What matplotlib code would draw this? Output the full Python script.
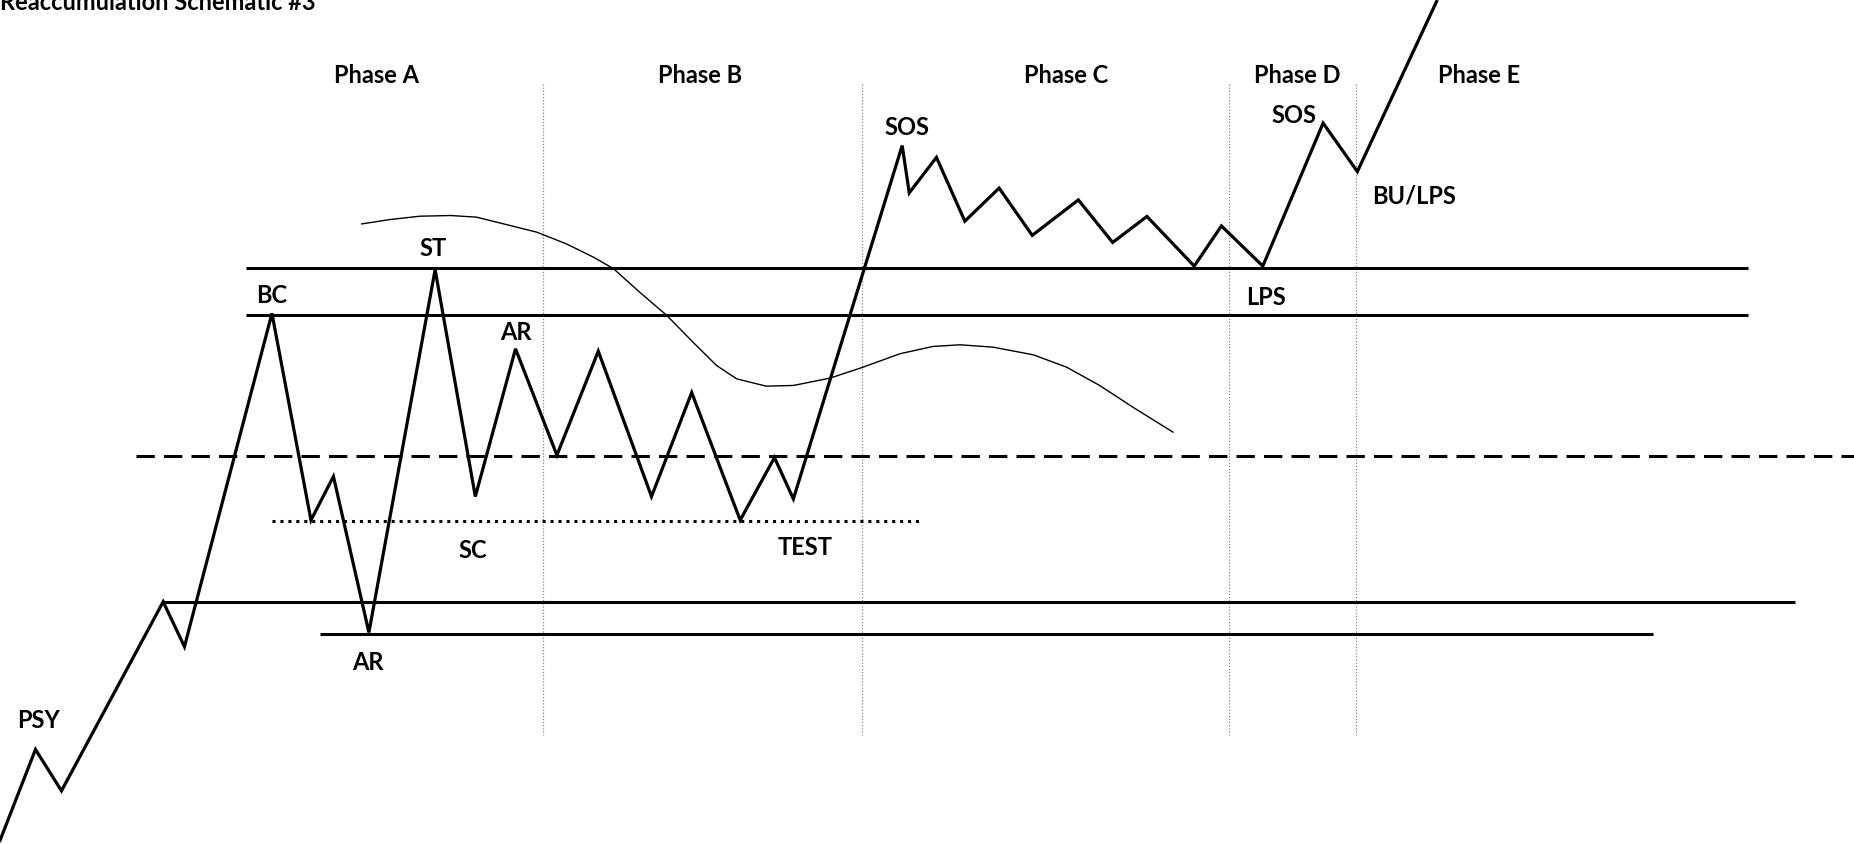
import numpy as np
import matplotlib.pyplot as plt

# price path (x position, price level); price = 715 - screen row
path_x = [0, 30, 52, 138, 156, 230, 263, 282, 312, 368, 402, 436, 471, 506, 551, 585,
          626, 655, 671, 763, 769, 792, 816, 845, 873, 912, 941, 970, 1010, 1033, 1068,
          1119, 1148, 1215]
path_y = [712, 635, 670, 510, 548, 266, 441, 404, 536, 229, 421, 296, 386, 298, 421, 333,
          441, 388, 423, 124, 164, 134, 188, 160, 200, 170, 206, 184, 226, 192, 226,
          105, 146, 2]

# thin curve
curve_x = [306, 330, 355, 381, 403, 426, 454, 479, 502, 519, 541, 564, 586, 606, 623,
           648, 671, 702, 730, 761, 789, 812, 840, 874, 902, 930, 958, 992]
curve_y = [190.3, 186.6, 183.8, 183.2, 184.6, 190.3, 197.3, 207.2, 218.5, 228.3, 248.1,
           267.8, 290.3, 310.1, 321.4, 327.6, 327.0, 320.8, 311.5, 300.2, 294.0, 292.6,
           294.6, 301.1, 311.5, 327.0, 345.3, 366.5]

# horizontal levels: (row, x start, x end, style)
levels = [
    (228, 208, 1478, 'solid'),
    (267, 208, 1478, 'solid'),
    (387, 115, 1568, 'dashed'),
    (442, 230, 780, 'dotted'),
    (510, 138, 1518, 'solid'),
    (537, 271, 1398, 'solid'),
]

phase_div_x = [459, 729, 1039, 1147]

phase_names = ['Phase A', 'Phase B', 'Phase C', 'Phase D', 'Phase E']
phase_x = [318, 592, 902, 1097, 1251]

labels = ['SOS', 'SOS', 'BU/LPS', 'ST', 'BC', 'LPS', 'AR', 'SC', 'TEST', 'AR', 'PSY']
label_x = [767, 1094, 1196, 366, 230, 1071, 436, 400, 681, 311, 33]
label_y = [108, 98, 166, 210, 250, 252, 281, 466, 463, 561, 610]

H = 715
def price(rows):
    return H - np.array(rows, dtype=float)

fig = plt.figure(figsize=(18.54, 8.45), dpi=100)
ax = fig.add_axes([0, 0, 1, 1])
ax.set_xlim(0, 1568)
ax.set_ylim(0, H)
ax.axis('off')

font = dict(family=['Lato', 'DejaVu Sans'], fontweight='bold', fontsize=17, color='black')

for x in phase_div_x:
    ax.plot([x, x], price([72, 623]), color='#888888', lw=0.9, ls=(0, (1, 1.5)))

for row, x0, x1, style in levels:
    if style == 'solid':
        ax.plot([x0, x1], price([row, row]), color='black', lw=2.2, solid_capstyle='butt')
    elif style == 'dashed':
        ax.plot([x0, x1], price([row, row]), color='black', lw=2.2, ls=(0, (6, 3)))
    else:
        ax.plot([x0, x1], price([row, row]), color='black', lw=2.2, ls=(0, (1, 1.6)))

ax.plot(curve_x, price(curve_y), color='black', lw=1.0, solid_joinstyle='round')
ax.plot(path_x, price(path_y), color='black', lw=2.3, solid_joinstyle='miter')

for name, x in zip(phase_names, phase_x):
    ax.text(x, H - 64, name, ha='center', va='center', **font)

for lab, x, y in zip(labels, label_x, label_y):
    ax.text(x, H - y, lab, ha='center', va='center', **font)

ax.text(0, H - 2, 'Reaccumulation Schematic #3', ha='left', va='center', **font)

fig.savefig('out.png', dpi=100)
